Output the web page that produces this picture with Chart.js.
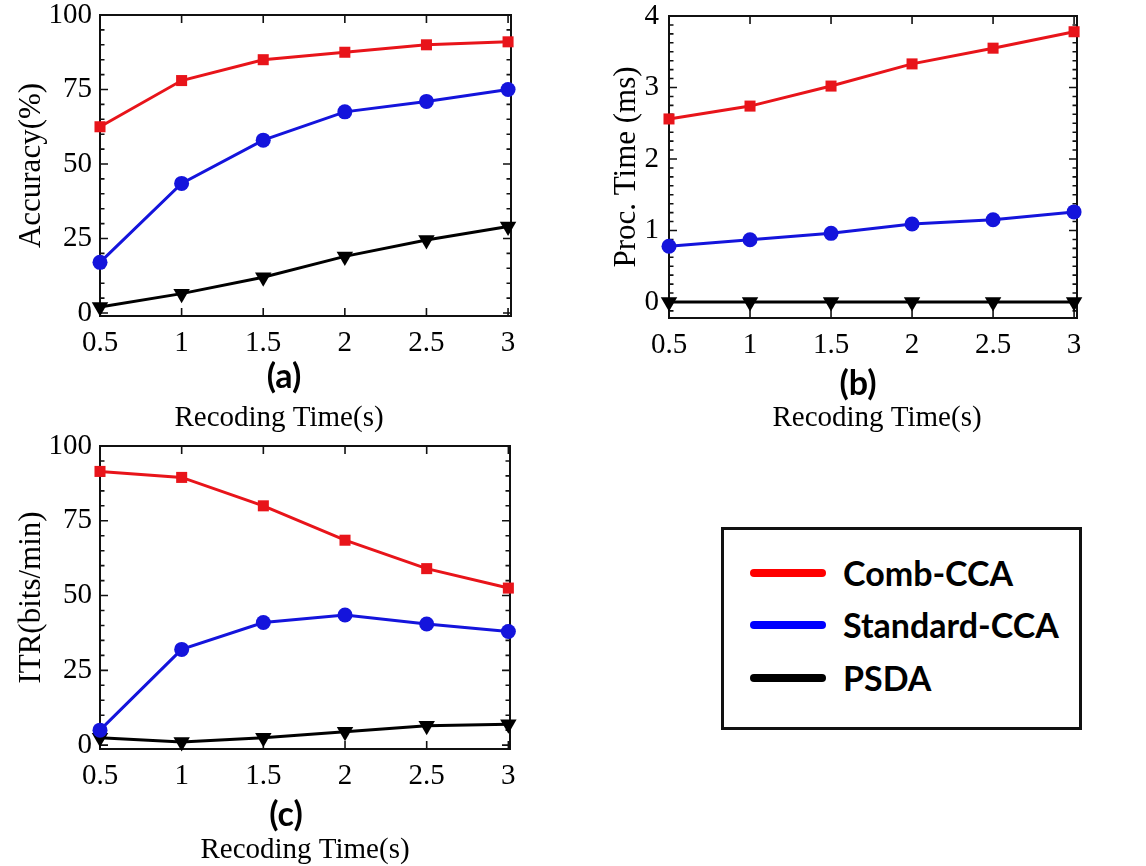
<!DOCTYPE html>
<html>
<head>
<meta charset="utf-8">
<script src="https://cdn.jsdelivr.net/npm/chart.js@4.4.0/dist/chart.umd.min.js"></script>
<style>
  body { margin: 0; background: #fff; }
  #page { position: relative; width: 1146px; height: 866px; overflow: hidden; background: #fff; }
  canvas { position: absolute; }
  .tag { position: absolute; font: bold 34px Lato, "Open Sans", sans-serif; color: #000;
         transform: translate(-50%, -50%); line-height: 1; }
  #legendBox { position: absolute; left: 721px; top: 527px; width: 361px; height: 203px;
               box-sizing: border-box; border: 3px solid #111; }
  .row { position: absolute; left: 0; height: 0; }
  .row .swatch { position: absolute; left: 26px; top: -4px; width: 76px; height: 8px; border-radius: 4px; }
  .row .name { position: absolute; left: 119px; top: -20px; font: bold 34px Lato, "Open Sans", sans-serif;
               line-height: 40px; white-space: nowrap; color: #000; }
</style>
</head>
<body>
<div id="page">
  <canvas id="accChart" width="540" height="440" style="left:0;top:0"></canvas>
  <canvas id="procChart" width="540" height="440" style="left:560px;top:0"></canvas>
  <canvas id="itrChart" width="540" height="436" style="left:0;top:430px"></canvas>
  <div class="tag" style="left:284px;top:375px">(a)</div>
  <div class="tag" style="left:858px;top:382px">(b)</div>
  <div class="tag" style="left:286px;top:813px">(c)</div>
  <div id="legendBox"></div>
</div>
<script>
const times = [0.5, 1, 1.5, 2, 2.5, 3];
const xTicks = [0.5, 1, 1.5, 2, 2.5, 3];
const seriesNames = ["Comb-CCA", "Standard-CCA", "PSDA"];
const xTitle = "Recoding Time(s)";

// (a) accuracy, %
const accComb = [62.5, 78, 85, 87.5, 90, 91];
const accStd = [17, 43.5, 58, 67.5, 71, 75];
const accPsda = [2, 6.5, 12, 19, 24.5, 29];
const accTicks = [0, 25, 50, 75, 100];

// (b) processing time, ms
const procComb = [2.56, 2.74, 3.02, 3.33, 3.55, 3.78];
const procStd = [0.78, 0.87, 0.96, 1.09, 1.15, 1.26];
const procPsda = [0, 0, 0, 0, 0, 0];
const procTicks = [0, 1, 2, 3, 4];

// (c) ITR, bits/min
const itrComb = [91.5, 89.5, 80, 68.5, 59, 52.5];
const itrStd = [5, 32, 41, 43.5, 40.5, 38];
const itrPsda = [2.5, 1, 2.5, 4.5, 6.5, 7];
const itrTicks = [0, 25, 50, 75, 100];

const looks = [
  { color: "#e8141a", legend: "#ff0000", pointStyle: "rect", radius: 7.8, rotation: 0 },
  { color: "#1414dc", legend: "#0000ff", pointStyle: "circle", radius: 7.5, rotation: 0 },
  { color: "#000000", legend: "#000000", pointStyle: "triangle", radius: 9.5, rotation: 180 }
];

const serif = '"Liberation Serif", "Times New Roman", serif';

// box + inward ticks, drawn under the lines
const frameTicks = {
  id: "frameTicks",
  beforeDatasetsDraw(chart, args, opts) {
    const { ctx, chartArea: a, scales: { x, y } } = chart;
    ctx.save();
    ctx.strokeStyle = "#111";
    ctx.lineWidth = 2;
    ctx.strokeRect(a.left, a.top, a.right - a.left, a.bottom - a.top);
    ctx.lineWidth = 1.6;
    ctx.beginPath();
    const step = opts.minorStep;
    const start = Math.ceil(y.min / step - 1e-9);
    const end = Math.floor(y.max / step + 1e-9);
    for (let k = start; k <= end; k++) {
      const v = k * step;
      const major = y.ticks.some(t => Math.abs(t.value - v) < 1e-6);
      const len = major ? 8 : 4.5;
      const py = y.getPixelForValue(v);
      ctx.moveTo(a.left, py); ctx.lineTo(a.left + len, py);
      ctx.moveTo(a.right, py); ctx.lineTo(a.right - len, py);
    }
    x.ticks.forEach(t => {
      const px = x.getPixelForValue(t.value);
      ctx.moveTo(px, a.top); ctx.lineTo(px, a.top + 8);
      ctx.moveTo(px, a.bottom); ctx.lineTo(px, a.bottom - 8);
    });
    ctx.stroke();
    ctx.restore();
  }
};

// x caption sits below the (a)/(b)/(c) tag, not always centred on the plot
const xCaption = {
  id: "xCaption",
  afterDraw(chart, args, opts) {
    const { ctx } = chart;
    ctx.save();
    ctx.font = `29px ${serif}`;
    ctx.fillStyle = "#000";
    ctx.textAlign = "center";
    ctx.textBaseline = "middle";
    ctx.fillText(xTitle, opts.x, opts.y);
    ctx.restore();
  }
};

function series(values, i) {
  const s = looks[i];
  return {
    label: seriesNames[i],
    data: times.map((t, k) => ({ x: t, y: values[k] })),
    borderColor: s.color,
    backgroundColor: s.color,
    borderWidth: 3,
    pointStyle: s.pointStyle,
    pointRadius: s.radius,
    pointRotation: s.rotation,
    pointBackgroundColor: s.color,
    pointBorderColor: s.color,
    pointBorderWidth: 0,
    tension: 0,
    clip: false
  };
}

function makeChart(id, cfg) {
  return new Chart(document.getElementById(id), {
    type: "line",
    data: { datasets: [series(cfg.comb, 0), series(cfg.std, 1), series(cfg.psda, 2)] },
    options: {
      responsive: false,
      animation: false,
      layout: { padding: cfg.padding },
      plugins: {
        legend: { display: false },
        tooltip: { enabled: false },
        frameTicks: { minorStep: cfg.minorStep },
        xCaption: { x: cfg.captionX, y: cfg.captionY }
      },
      scales: {
        x: {
          type: "linear",
          min: 0.5,
          max: cfg.xMax,
          afterBuildTicks: s => { s.ticks = xTicks.map(v => ({ value: v })); },
          afterFit: s => { s.height = cfg.xHeight; s.paddingLeft = 0; s.paddingRight = 0; },
          grid: { display: false, drawTicks: false },
          border: { display: false },
          ticks: { color: "#000", font: { family: serif, size: 29 }, padding: 10, maxRotation: 0,
                   callback: v => String(v) }
        },
        y: {
          type: "linear",
          min: cfg.yMin,
          max: cfg.yMax,
          afterBuildTicks: s => { s.ticks = cfg.yTicks.map(v => ({ value: v })); },
          afterFit: s => { s.width = cfg.yWidth; s.paddingTop = 0; s.paddingBottom = 0; },
          grid: { display: false, drawTicks: false },
          border: { display: false },
          ticks: { color: "#000", font: { family: serif, size: 29 }, padding: cfg.yTickPad,
                   callback: v => String(v) },
          title: { display: true, text: cfg.yTitle, color: "#000",
                   font: { family: serif, size: 31 }, padding: { top: cfg.yTitlePad, bottom: 0 } }
        }
      }
    },
    plugins: [frameTicks, xCaption]
  });
}

makeChart("accChart", {
  comb: accComb, std: accStd, psda: accPsda, yTicks: accTicks,
  yMin: -1, yMax: 100, xMax: 3.018, minorStep: 5,
  yTitle: "Accuracy(%)",
  padding: { left: 0, top: 15, right: 29, bottom: 0 },
  yWidth: 100, xHeight: 124, yTickPad: 8, yTitlePad: 13,
  captionX: 279, captionY: 418
});

makeChart("procChart", {
  comb: procComb, std: procStd, psda: procPsda, yTicks: procTicks,
  yMin: -0.224, yMax: 4, xMax: 3.018, minorStep: 0.125,
  yTitle: "Proc. Time (ms)",
  padding: { left: 0, top: 16, right: 23, bottom: 0 },
  yWidth: 109, xHeight: 122, yTickPad: 10, yTitlePad: 48,
  captionX: 317, captionY: 418
});

makeChart("itrChart", {
  comb: itrComb, std: itrStd, psda: itrPsda, yTicks: itrTicks,
  yMin: -1.3, yMax: 100, xMax: 3.01, minorStep: 5,
  yTitle: "ITR(bits/min)",
  padding: { left: 0, top: 16, right: 30, bottom: 0 },
  yWidth: 100, xHeight: 117, yTickPad: 8, yTitlePad: 13,
  captionX: 305, captionY: 420
});

// legend box
const legendBox = document.getElementById("legendBox");
const rowCenters = [43, 95, 148];
seriesNames.forEach((name, i) => {
  const row = document.createElement("div");
  row.className = "row";
  row.style.top = rowCenters[i] + "px";
  row.innerHTML = `<div class="swatch" style="background:${looks[i].legend}"></div><div class="name">${name}</div>`;
  legendBox.appendChild(row);
});
</script>
</body>
</html>
